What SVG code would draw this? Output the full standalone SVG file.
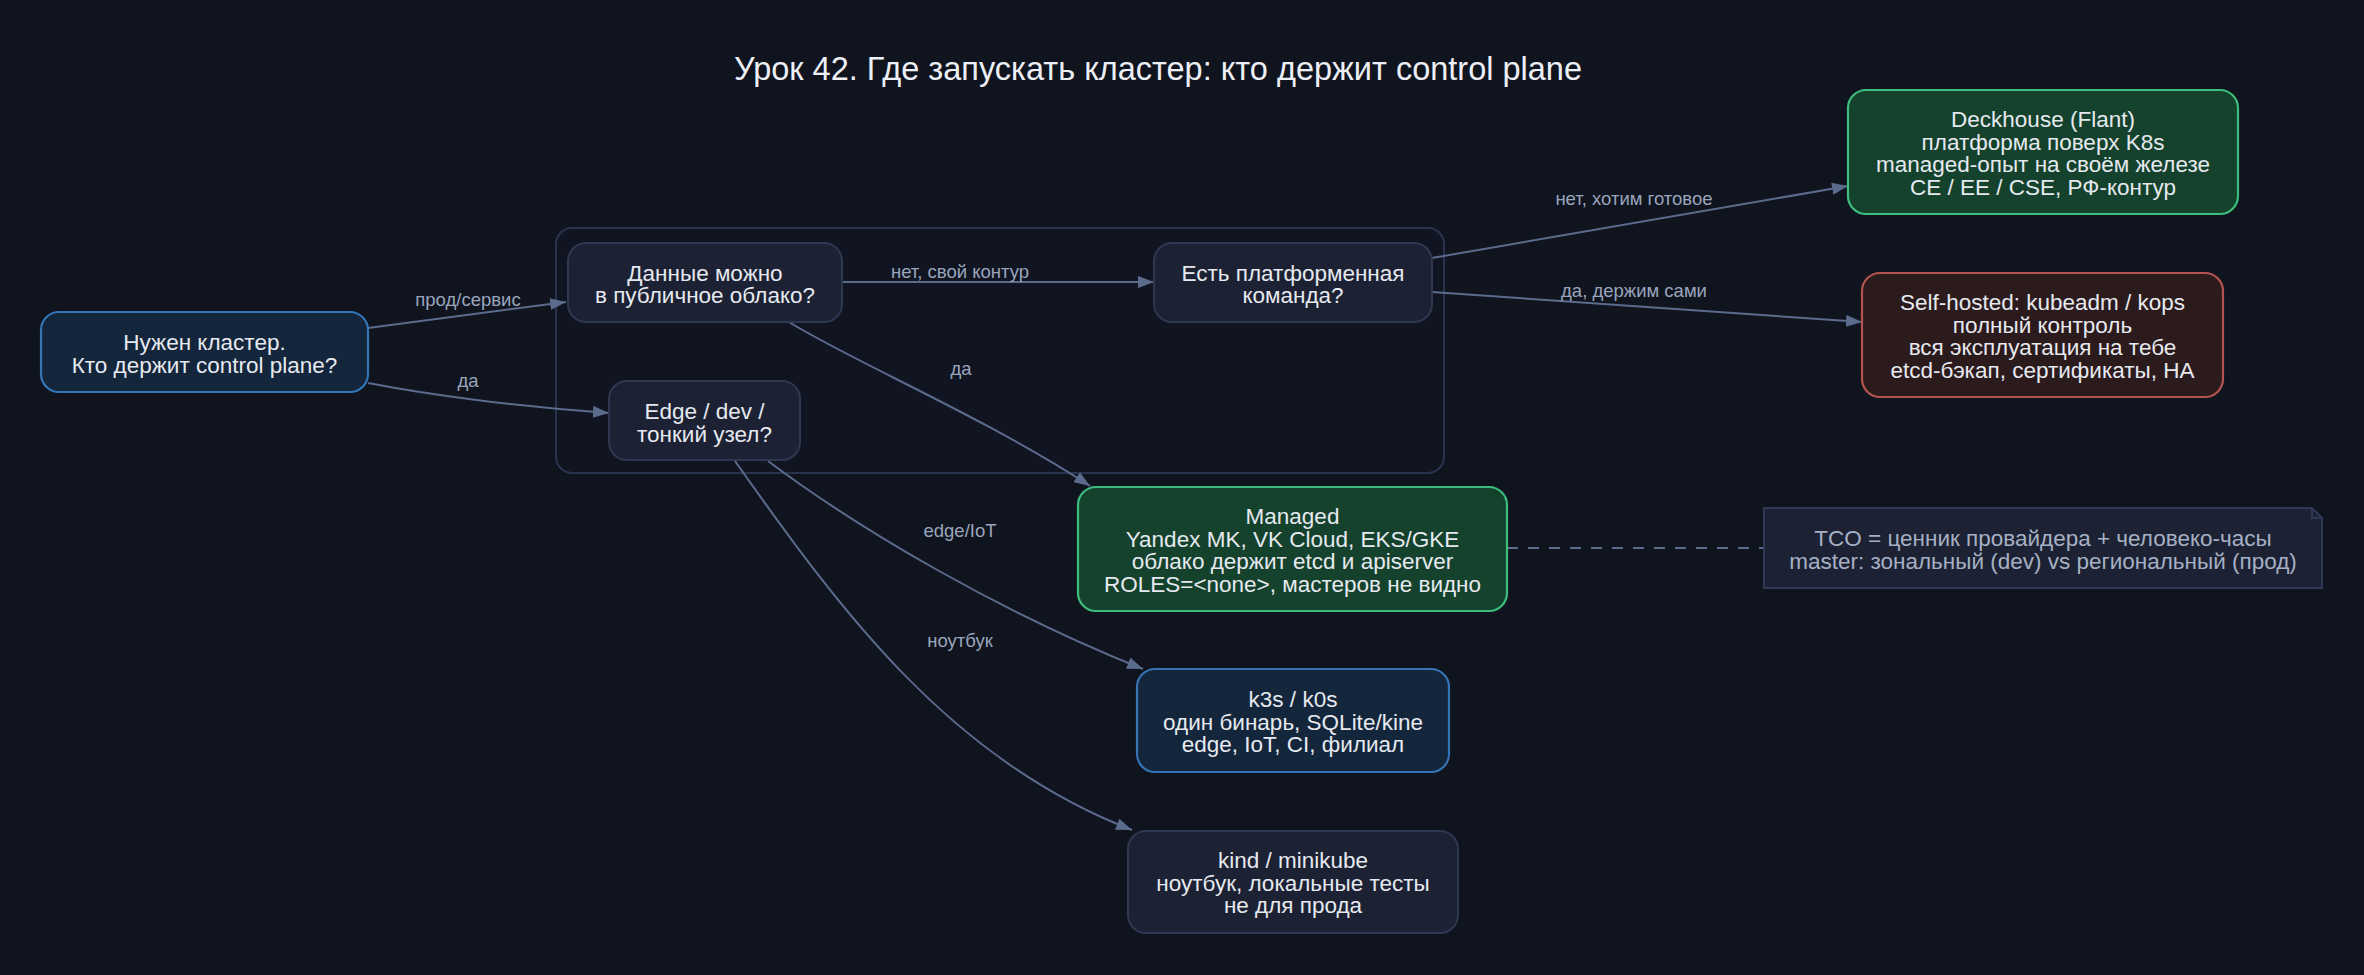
<svg xmlns="http://www.w3.org/2000/svg" width="2364" height="975" viewBox="0 0 2364 975">
<defs>
<marker id="arr" markerUnits="userSpaceOnUse" markerWidth="16" markerHeight="12" refX="16" refY="6" orient="auto">
<path d="M0,0 L16,6 L0,12 z" fill="#5b6b8c"/>
</marker>
<style>
text{font-family:"Liberation Sans",Arial,sans-serif}
.t{font-size:22.5px;fill:#e6e9f0;text-anchor:middle}
.lbl{font-size:18.5px;fill:#9aa5bd;text-anchor:middle}
.title{font-size:32.5px;fill:#eceff5;text-anchor:middle}
.e{fill:none;stroke:#5b6b8c;stroke-width:2}
.blue{fill:#14263b;stroke:#3574b5;stroke-width:2.2}
.gray{fill:#1c2233;stroke:#2e3850;stroke-width:2}
.green{fill:#14422c;stroke:#3dbd7d;stroke-width:2.2}
.red{fill:#2c1b1d;stroke:#b4544f;stroke-width:2.2}
.note{fill:#1c2233;stroke:#2e3a55;stroke-width:2}
.nt{font-size:22.5px;fill:#a6b0c4;text-anchor:middle}
</style>
</defs>
<rect width="2364" height="975" fill="#10141f"/>
<text class="title" x="1158" y="80">Урок 42. Где запускать кластер: кто держит control plane</text>

<g id="cluster">
<rect x="556" y="228" width="888" height="245" rx="16" fill="#111522" stroke="#29334d" stroke-width="2"/>
</g>

<g id="connectors">
<path class="e" d="M368,328 L566,302" marker-end="url(#arr)"/>
<text class="lbl" x="468" y="306">прод/сервис</text>
<path class="e" d="M368,383 C430,395 520,407 609,413" marker-end="url(#arr)"/>
<text class="lbl" x="468" y="387">да</text>
<path class="e" d="M842,282 L1154,282" marker-end="url(#arr)"/>
<text class="lbl" x="960" y="278">нет, свой контур</text>
<path class="e" d="M789,322 C850,360 990,420 1090,486" marker-end="url(#arr)"/>
<text class="lbl" x="961" y="375">да</text>
<path class="e" d="M1432,258 L1848,186" marker-end="url(#arr)"/>
<text class="lbl" x="1634" y="205">нет, хотим готовое</text>
<path class="e" d="M1432,292 L1862,322" marker-end="url(#arr)"/>
<text class="lbl" x="1634" y="297">да, держим сами</text>
<path class="e" d="M768,461 C860,530 1000,612 1143,669" marker-end="url(#arr)"/>
<text class="lbl" x="960" y="537">edge/IoT</text>
<path class="e" d="M735,461 C840,610 950,760 1132,830" marker-end="url(#arr)"/>
<text class="lbl" x="960" y="647">ноутбук</text>
<path class="e" d="M1507,548 L1764,548" stroke-dasharray="11,10"/>
</g>

<g id="n_start">
<rect class="blue" x="41" y="312" width="327" height="80" rx="18"/>
<text class="t" x="204.5" y="350">Нужен кластер.</text>
<text class="t" x="204.5" y="373">Кто держит control plane?</text>
</g>
<g id="n_data">
<rect class="gray" x="568" y="243" width="274" height="79" rx="18"/>
<text class="t" x="705" y="281">Данные можно</text>
<text class="t" x="705" y="303">в публичное облако?</text>
</g>
<g id="n_team">
<rect class="gray" x="1154" y="243" width="278" height="79" rx="18"/>
<text class="t" x="1293" y="281">Есть платформенная</text>
<text class="t" x="1293" y="303">команда?</text>
</g>
<g id="n_edge">
<rect class="gray" x="609" y="381" width="191" height="79" rx="18"/>
<text class="t" x="704.5" y="419">Edge / dev /</text>
<text class="t" x="704.5" y="441.5">тонкий узел?</text>
</g>
<g id="n_deckhouse">
<rect class="green" x="1848" y="90" width="390" height="124" rx="18"/>
<text class="t" x="2043" y="127">Deckhouse (Flant)</text>
<text class="t" x="2043" y="149.5">платформа поверх K8s</text>
<text class="t" x="2043" y="172">managed-опыт на своём железе</text>
<text class="t" x="2043" y="194.5">CE / EE / CSE, РФ-контур</text>
</g>
<g id="n_self">
<rect class="red" x="1862" y="273" width="361" height="124" rx="18"/>
<text class="t" x="2042.5" y="310">Self-hosted: kubeadm / kops</text>
<text class="t" x="2042.5" y="332.5">полный контроль</text>
<text class="t" x="2042.5" y="355">вся эксплуатация на тебе</text>
<text class="t" x="2042.5" y="377.5">etcd-бэкап, сертификаты, HA</text>
</g>
<g id="n_managed">
<rect class="green" x="1078" y="487" width="429" height="124" rx="18"/>
<text class="t" x="1292.5" y="524">Managed</text>
<text class="t" x="1292.5" y="546.5">Yandex MK, VK Cloud, EKS/GKE</text>
<text class="t" x="1292.5" y="569">облако держит etcd и apiserver</text>
<text class="t" x="1292.5" y="591.5">ROLES=&lt;none&gt;, мастеров не видно</text>
</g>
<g id="n_note">
<path class="note" d="M1764,508 H2312 L2322,518 V588 H1764 Z"/>
<path d="M2312,508 V518 H2322" fill="none" stroke="#2e3a55" stroke-width="2"/>
<text class="nt" x="2043" y="546">TCO = ценник провайдера + человеко-часы</text>
<text class="nt" x="2043" y="568.5">master: зональный (dev) vs региональный (прод)</text>
</g>
<g id="n_k3s">
<rect class="blue" x="1137" y="669" width="312" height="103" rx="18"/>
<text class="t" x="1293" y="707">k3s / k0s</text>
<text class="t" x="1293" y="729.5">один бинарь, SQLite/kine</text>
<text class="t" x="1293" y="752">edge, IoT, CI, филиал</text>
</g>
<g id="n_kind">
<rect class="gray" x="1128" y="831" width="330" height="102" rx="18"/>
<text class="t" x="1293" y="868">kind / minikube</text>
<text class="t" x="1293" y="890.5">ноутбук, локальные тесты</text>
<text class="t" x="1293" y="913">не для прода</text>
</g>
</svg>
